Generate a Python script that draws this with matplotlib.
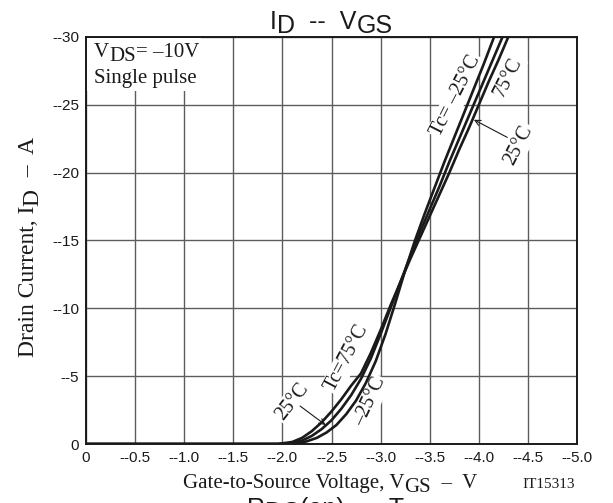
import matplotlib.pyplot as plt
import numpy as np
from matplotlib.patches import Rectangle

SERIF = 'Liberation Serif'
SANS = 'Liberation Sans'
INK = '#1a1a1a'

# |VGS| (V) vs |ID| (A) for each case temperature
vgs_m25 = [0, 2.05, 2.15, 2.25, 2.35, 2.45, 2.55, 2.65, 2.75, 2.85, 2.95, 3.05, 3.15,
           3.25, 3.35, 3.45, 3.55, 3.65, 3.75, 3.85, 3.95, 4.05, 4.15, 4.25]
id_m25 = [0, 0, 0.05, 0.2, 0.45, 0.85, 1.4, 2.2, 3.2, 4.5, 6.1, 8.1, 10.4,
          12.8, 15.0, 17.0, 18.9, 20.8, 22.6, 24.4, 26.2, 28.0, 29.9, 31.7]

vgs_25 = [0, 2.0, 2.1, 2.2, 2.3, 2.4, 2.5, 2.6, 2.7, 2.8, 2.9, 3.0, 3.1, 3.2,
          3.3, 3.4, 3.5, 3.6, 3.7, 3.8, 3.9, 4.0, 4.1, 4.2, 4.3]
id_25 = [0, 0, 0.05, 0.25, 0.6, 1.1, 1.75, 2.6, 3.6, 4.8, 6.3, 8.1, 10.0, 11.9,
         13.8, 15.6, 17.3, 19.0, 20.8, 22.5, 24.2, 25.9, 27.6, 29.3, 31.0]

vgs_75 = [0, 1.95, 2.1, 2.2, 2.3, 2.4, 2.5, 2.6, 2.7, 2.8, 2.9, 3.0, 3.1, 3.2,
          3.3, 3.4, 3.5, 3.6, 3.7, 3.8, 3.9, 4.0, 4.1, 4.2, 4.3, 4.4]
id_75 = [0, 0, 0.15, 0.45, 0.95, 1.6, 2.4, 3.3, 4.3, 5.2, 6.7, 8.4, 10.2, 11.9,
         13.6, 15.2, 16.8, 18.4, 20.0, 21.7, 23.3, 25.0, 26.7, 28.3, 30.0, 31.6]

xticks = [0, -0.5, -1.0, -1.5, -2.0, -2.5, -3.0, -3.5, -4.0, -4.5, -5.0]
xticklabels = ['0', '--0.5', '--1.0', '--1.5', '--2.0', '--2.5', '--3.0',
               '--3.5', '--4.0', '--4.5', '--5.0']
yticks = [0, -5, -10, -15, -20, -25, -30]
yticklabels = ['0', '--5', '--10', '--15', '--20', '--25', '--30']

fig = plt.figure(figsize=(6.13, 5.03), dpi=100)
ax = fig.add_axes([86 / 613, 59 / 503, 491 / 613, 407 / 503])


def runs(x, y, parts, size, family, rot=0, color=INK):
    # 文字串接：(text, dy) ，dy<0 表示下标下沉 (points)
    s0, dy0 = parts[0]
    prev = fig.text(x, y, s0, fontsize=size, family=family, color=color,
                    ha='left', va='baseline', rotation=rot,
                    rotation_mode='anchor', zorder=3)
    cur = dy0
    for s, dy in parts[1:]:
        shift = dy - cur
        cur = dy
        if rot == 0:
            prev = ax.annotate(s, xy=(1, 0), xycoords=prev, xytext=(0, shift),
                               textcoords='offset points', ha='left',
                               va='bottom', fontsize=size, family=family,
                               color=color, annotation_clip=False, zorder=3)
        else:
            prev = ax.annotate(s, xy=(0, 1), xycoords=prev, xytext=(-shift, 0),
                               textcoords='offset points', ha='left',
                               va='bottom', fontsize=size, family=family,
                               color=color, rotation=90, annotation_clip=False)
    return prev


for v, i in [(vgs_m25, id_m25), (vgs_25, id_25), (vgs_75, id_75)]:
    ax.plot(-np.array(v), -np.array(i), color=INK, lw=1.9, zorder=4,
            solid_capstyle='butt')

ax.set_xlim(0, -5)
ax.set_ylim(0, -30)
ax.set_xticks(xticks, xticklabels, fontsize=11, family=SANS, color=INK)
ax.set_yticks(yticks, yticklabels, fontsize=11, family=SANS, color=INK)
ax.tick_params(length=0, pad=5)
ax.grid(color='#5c5c5c', lw=1.0)
ax.set_axisbelow(True)
for sp in ax.spines.values():
    sp.set_linewidth(1.4)
    sp.set_color(INK)

# 曲线标注
box = dict(boxstyle='square,pad=0.08', fc='white', ec='none')
labels = [
    ('Tc= –25°C', -3.77, -25.65, 63),
    ('75°C', -4.30, -27.05, 63),
    ('25°C', -4.41, -22.04, 63),
    ('25°C', -2.10, -3.10, 52),
    ('Tc=75°C', -2.66, -6.34, 62),
    ('–25°C', -2.89, -3.10, 65),
]
for s, x, y, r in labels:
    ax.text(x, y, s, fontsize=14.5, family=SERIF, color=INK, rotation=r,
            rotation_mode='anchor', ha='center', va='center', bbox=box,
            zorder=3)

arrow = dict(arrowstyle='->', lw=0.8, color=INK, shrinkA=0, shrinkB=0)
ax.annotate('', xy=(-3.95, -23.9), xytext=(-4.29, -22.6), arrowprops=arrow,
            zorder=5)
ax.annotate('', xy=(-2.44, -1.40), xytext=(-2.18, -2.80), arrowprops=arrow,
            zorder=5)

# 条件说明（白底遮住网格）
ax.add_patch(Rectangle((0.003, 0.868), 0.232, 0.129, transform=ax.transAxes,
                       fc='white', ec='none', zorder=2))
runs(94 / 613, (503 - 57) / 503,
     [('V', 0), ('DS', -3), ('= –10V', 0)], 15, SERIF)
fig.text(94 / 613, (503 - 83) / 503, 'Single pulse', fontsize=15,
         family=SERIF, color=INK, va='baseline', zorder=3)

# 标题与坐标轴标题
runs(270 / 613, (503 - 29) / 503,
     [('I', 0), ('D', -3), ('  --  V', 0), ('GS', -3)], 18, SANS)
runs(183 / 613, (503 - 488) / 503,
     [('Gate-to-Source Voltage, V', 0), ('GS', -3), ('  –  V', 0)], 15, SERIF)
fig.text(522 / 613, (503 - 488) / 503, 'IT15313', fontsize=11, family=SERIF,
         color=INK, va='baseline')
runs(34 / 613, (503 - 357) / 503,
     [('Drain Current, I', 0), ('D', -3), ('  –  A', 0)], 17, SERIF, rot=90)

# 下一张图的标题（被裁切）
runs(247 / 613, (503 - 516) / 503,
     [('R', 0), ('DS', -3), ('(on)  --  T', 0), ('c', -3)], 18, SANS)

fig.savefig('out.png', dpi=100)
